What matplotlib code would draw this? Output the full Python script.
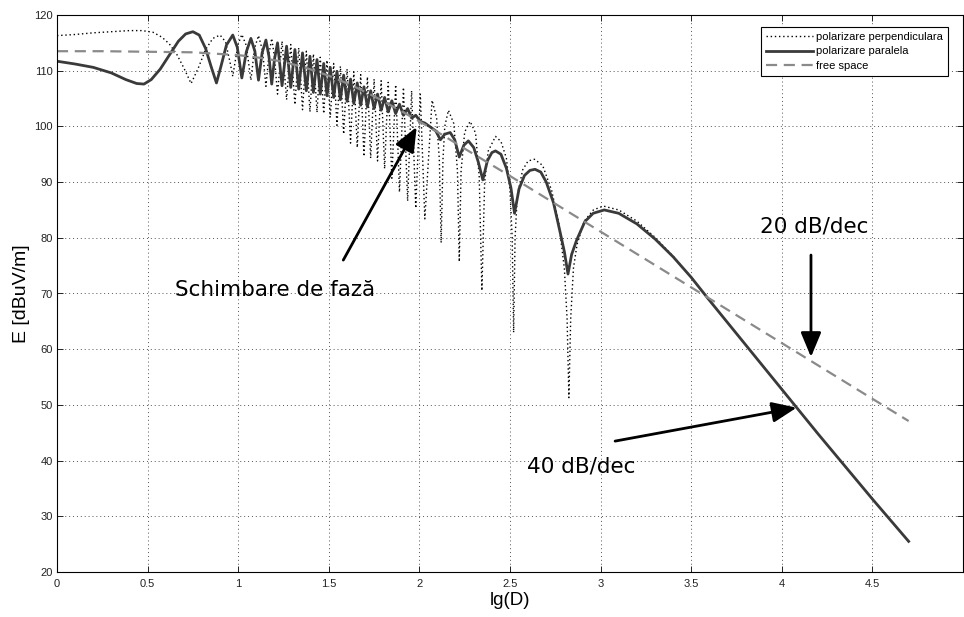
import matplotlib
matplotlib.use('Agg')
import matplotlib.pyplot as plt

# free space field, 20 dB/dec far away
fs_x = [0, 0.25, 0.5, 0.75, 1.0, 1.125, 1.25, 1.375, 1.5, 1.625, 1.75, 1.875,
        2.0, 2.125, 2.25, 2.5, 2.75, 3.0, 3.25, 3.5, 3.75, 4.0, 4.25, 4.5, 4.7]
fs_y = [113.5, 113.5, 113.4, 113.3, 112.8, 112.3, 111.6, 110.5, 109.1, 107.4, 105.4, 103.2,
        100.9, 98.5, 96.0, 91.1, 86.1, 81.1, 76.1, 71.1, 66.1, 61.1, 56.1, 51.1, 47.1]

# parallel polarisation (two-ray, solid)
par_x = [0, 0.1, 0.2, 0.3, 0.38, 0.44, 0.48, 0.52, 0.57, 0.62, 0.67, 0.71, 0.75,
         0.785, 0.82, 0.85, 0.88, 0.905, 0.935, 0.97, 0.995, 1.02, 1.045, 1.07,
         1.092, 1.112, 1.132, 1.153, 1.17, 1.185, 1.2, 1.217,
         1.242, 1.267, 1.29, 1.313, 1.334, 1.355, 1.376, 1.396, 1.415, 1.435,
         1.453, 1.472, 1.49, 1.508, 1.527, 1.545, 1.564, 1.582, 1.601, 1.62,
         1.638, 1.657, 1.676, 1.694, 1.713, 1.731, 1.75, 1.769, 1.789, 1.808,
         1.828, 1.848, 1.869, 1.89, 1.912, 1.935, 1.957, 1.98, 2.005, 2.03,
         2.06, 2.09, 2.116, 2.14, 2.17, 2.195, 2.22, 2.245, 2.27, 2.3, 2.325,
         2.35, 2.375, 2.4, 2.42, 2.45, 2.48, 2.505, 2.525, 2.55, 2.58, 2.61,
         2.638, 2.67, 2.70, 2.74, 2.78, 2.80, 2.82, 2.84, 2.868, 2.913, 2.959,
         3.02, 3.1, 3.2, 3.3, 3.4, 3.5, 3.6, 3.7, 3.8, 3.9, 4.0, 4.1, 4.2,
         4.3, 4.4, 4.5, 4.6, 4.7]
par_y = [111.7, 111.2, 110.6, 109.6, 108.4, 107.7, 107.6, 108.4, 110.3, 112.8, 115.3, 116.6, 117.0,
         116.4, 114.0, 110.8, 107.8, 110.8, 114.6, 116.4, 114.2, 108.7, 113.4, 115.8,
         113.5, 108.3, 113.2, 115.5, 112.5, 107.6, 112.0, 115.0,
         107.3, 114.4, 107.0, 113.8, 106.7, 113.2, 106.4, 112.6, 106.1, 112.0,
         105.8, 111.3, 105.5, 110.6, 105.2, 109.9, 104.8, 109.2, 104.5, 108.5,
         104.1, 107.8, 103.8, 107.1, 103.5, 106.4, 103.2, 105.8, 102.9, 105.2,
         102.6, 104.6, 102.3, 104.0, 102.0, 103.2, 101.5, 102.0, 100.9, 100.6,
         99.9, 99.2, 97.6, 98.6, 98.9, 97.6, 94.5, 96.6, 97.4, 96.2, 93.6,
         90.4, 93.8, 95.3, 95.6, 95.0, 92.5, 89.0, 84.4, 88.8, 91.2, 92.1,
         92.3, 91.8, 90.0, 86.3, 80.5, 77.5, 73.5, 77.0, 79.6, 82.9, 84.4,
         85.0, 84.4, 82.5, 79.8, 76.6, 72.9, 68.8, 64.8, 60.8, 56.8, 52.8, 48.8, 44.8,
         40.9, 37.0, 33.1, 29.3, 25.5]

# perpendicular polarisation (dotted)
perp_x = [0, 0.1, 0.2, 0.3, 0.4, 0.47, 0.53, 0.58, 0.62, 0.66, 0.70, 0.74,
          0.78, 0.82, 0.86, 0.90, 0.93, 0.955, 0.97, 0.985, 1.0, 1.02, 1.045,
          1.07, 1.09, 1.112, 1.135, 1.153, 1.17, 1.185, 1.2, 1.217,
          1.242, 1.267, 1.29, 1.313, 1.334, 1.355, 1.376, 1.396, 1.415, 1.435,
          1.453, 1.472, 1.49, 1.508, 1.527, 1.545, 1.564, 1.582, 1.601, 1.62,
          1.638, 1.657, 1.676, 1.694, 1.713, 1.731, 1.75, 1.769, 1.789, 1.808,
          1.828, 1.848, 1.869, 1.89, 1.912, 1.935, 1.957, 1.98, 2.005, 2.03,
          2.07, 2.095, 2.11, 2.12, 2.13, 2.14, 2.16, 2.19, 2.21, 2.22, 2.23,
          2.25, 2.28, 2.31, 2.33, 2.345, 2.36, 2.38, 2.42, 2.45, 2.48, 2.50,
          2.512, 2.52, 2.528, 2.54, 2.57, 2.60, 2.635, 2.68, 2.73, 2.77, 2.80,
          2.815, 2.825, 2.835, 2.85, 2.87, 2.91, 2.96, 3.015, 3.1, 3.2, 3.3,
          3.4, 3.5, 3.6, 3.7, 3.8, 3.9, 4.0, 4.1, 4.2, 4.3, 4.4, 4.5, 4.6, 4.7]
perp_y = [116.3, 116.5, 116.8, 117.0, 117.2, 117.2, 116.9, 116.0, 114.8, 113.0, 110.5, 107.7,
          110.5, 113.8, 115.8, 116.4, 115.2, 111.5, 109.0, 112.0, 114.8, 116.5, 114.5,
          108.3, 114.0, 116.3, 113.5, 107.2, 113.0, 115.8, 112.5, 105.8,
          115.3, 104.8, 114.7, 103.9, 114.1, 103.0, 113.5, 102.6, 113.0, 102.5,
          112.4, 102.3, 111.9, 101.6, 111.3, 100.2, 110.8, 98.6, 110.3, 97.0,
          109.8, 96.2, 109.3, 94.6, 108.9, 94.3, 108.5, 93.8, 108.2, 92.4,
          107.9, 90.7, 107.5, 88.2, 107.0, 86.6, 106.4, 85.3, 105.8, 83.4,
          104.7, 101.5, 94.0, 79.1, 94.0, 100.0, 102.9, 100.5, 92.0, 75.7, 92.0,
          99.0, 100.9, 98.8, 91.0, 70.5, 90.0, 95.6, 98.2, 97.3, 94.3, 88.5,
          80.0, 63.0, 80.0, 87.5, 92.2, 93.8, 94.1, 93.0, 88.5, 82.5, 74.5,
          65.5, 51.3, 65.5, 74.5, 78.8, 83.0, 85.0, 85.7, 85.0, 83.0, 80.1,
          76.7, 72.9, 68.8, 64.8, 60.8, 56.8, 52.8, 48.8, 44.8, 40.9, 37.0, 33.1, 29.3, 25.5]

xticks = [0, 0.5, 1, 1.5, 2, 2.5, 3, 3.5, 4, 4.5, 5]
xtick_labels = ['0', '0.5', '1', '1.5', '2', '2.5', '3', '3.5', '4', '4.5', '']
yticks = [20, 30, 40, 50, 60, 70, 80, 90, 100, 110, 120]

fig = plt.figure(figsize=(9.64, 6.17), dpi=100)
ax = fig.add_axes([57 / 964, 45 / 617, 906 / 964, 557 / 617])

ax.plot(perp_x, perp_y, color='black', lw=1.0, linestyle=(0, (1, 2)),
        label='polarizare perpendiculara')
ax.plot(par_x, par_y, color='#3a3a3a', lw=2.0, label='polarizare paralela')
ax.plot(fs_x, fs_y, color='#8a8a8a', lw=1.6, linestyle=(0, (5, 3)),
        label='free space')

ax.set_xlim(0, 5)
ax.set_ylim(20, 120)
ax.set_xticks(xticks)
ax.set_xticklabels(xtick_labels)
ax.set_yticks(yticks)
ax.tick_params(direction='in', length=4, width=0.7, top=True, right=True,
               labelsize=8, colors='#222222')
ax.tick_params(axis='x', pad=5)
ax.tick_params(axis='y', pad=3)
for lab in ax.get_xticklabels() + ax.get_yticklabels():
    lab.set_family('Liberation Sans')
ax.grid(True, color='#555555', linestyle=(0, (1, 3)), lw=0.7)
for sp in ax.spines.values():
    sp.set_linewidth(0.8)

ax.set_xlabel('lg(D)', fontsize=13.5, family='Liberation Sans', labelpad=2)
ax.set_ylabel('E [dBuV/m]', fontsize=14, family='Liberation Sans', labelpad=3)

leg = ax.legend(loc='upper right', bbox_to_anchor=(0.9834, 0.9785), borderaxespad=0,
                prop={'family': 'Liberation Sans', 'size': 8}, fancybox=False,
                framealpha=1, edgecolor='black', handlelength=4.2, handletextpad=0.3,
                labelspacing=0.4, borderpad=0.45)
leg.get_frame().set_linewidth(0.8)

arrow = dict(arrowstyle='-|>,head_length=0.6,head_width=0.25', color='black', lw=2,
             shrinkA=0, shrinkB=0, mutation_scale=25)
ax.annotate('', xy=(1.985, 99.9), xytext=(1.58, 76.0), arrowprops=arrow)
ax.annotate('', xy=(4.161, 58.6), xytext=(4.161, 76.9), arrowprops=arrow)
ax.annotate('', xy=(4.082, 49.5), xytext=(3.08, 43.5), arrowprops=arrow)

ax.text(0.651, 70.6, 'Schimbare de fază', fontsize=15.5, va='center', ha='left')
ax.text(3.88, 82.0, '20 dB/dec', fontsize=15.5, va='center', ha='left')
ax.text(2.594, 39.0, '40 dB/dec', fontsize=15.5, va='center', ha='left')

fig.savefig('out.png', dpi=100)
